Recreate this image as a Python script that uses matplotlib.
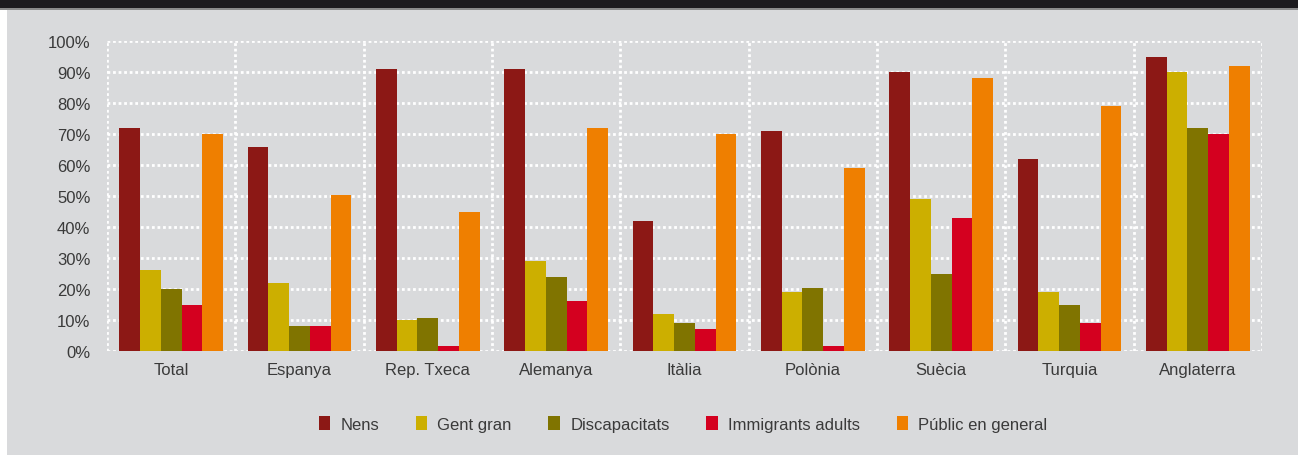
import numpy as np
import matplotlib.pyplot as plt

plt.rcParams['font.family'] = ['Liberation Sans', 'DejaVu Sans']

paisos = ['Total', 'Espanya', 'Rep. Txeca', 'Alemanya', 'Itàlia',
          'Polònia', 'Suècia', 'Turquia', 'Anglaterra']
nens = [72, 66, 91, 91, 42, 71, 90, 62, 95]
gent_gran = [26, 22, 10, 29, 12, 19, 49, 19, 90]
discapacitats = [20, 8, 10.5, 24, 9, 20.5, 25, 15, 72]
immigrants = [15, 8, 1.5, 16, 7, 1.5, 43, 9, 70]
public = [70, 50.5, 45, 72, 70, 59, 88, 79, 92]

series = [('Nens', nens, '#8c1815'),
          ('Gent gran', gent_gran, '#ccaf00'),
          ('Discapacitats', discapacitats, '#807400'),
          ('Immigrants adults', immigrants, '#d4001f'),
          ('Públic en general', public, '#ef7f00')]

fons = '#d9dadc'
text_color = '#3a3a3a'

fig = plt.figure(figsize=(12.98, 4.56), dpi=100)
fig.patch.set_facecolor('white')

# panell gris i franja fosca superior
fig.add_artist(plt.Rectangle((7 / 1298, 0), 1, 1, transform=fig.transFigure,
                             facecolor=fons, edgecolor='none', zorder=-10))
fig.add_artist(plt.Rectangle((0, 1 - 9 / 456), 1, 9 / 456, transform=fig.transFigure,
                             facecolor='#1c1a1f', edgecolor='none', zorder=-5))
fig.add_artist(plt.Rectangle((0, 1 - 10.5 / 456), 1, 1.5 / 456, transform=fig.transFigure,
                             facecolor='#8a8a8c', edgecolor='none', zorder=-6))

ax = fig.add_axes([107 / 1298, 1 - 352 / 456, (1262 - 107) / 1298, (352 - 42.3) / 456])
ax.set_facecolor(fons)

x = np.arange(len(paisos))
amplada = 0.162
for i, (nom, vals, color) in enumerate(series):
    ax.bar(x + (i - 2) * amplada, vals, width=amplada, color=color, label=nom,
           linewidth=0, zorder=3)

ax.set_xlim(-0.5, len(paisos) - 0.5)
ax.set_ylim(0, 100)
ax.set_yticks(np.arange(0, 101, 10))
ax.set_yticklabels([f'{v}%' for v in range(0, 101, 10)])
ax.set_xticks(x)
ax.set_xticklabels(paisos)

# graella puntejada
for v in range(0, 101, 10):
    ax.axhline(v, color='white', lw=2, ls=(0, (1, 1)), zorder=1)
for b in np.arange(-0.5, len(paisos)):
    ax.axvline(b, color='white', lw=2, ls=(0, (1, 1)), zorder=1)

for s in ax.spines.values():
    s.set_visible(False)
ax.tick_params(length=0, labelsize=12, colors=text_color)
ax.tick_params(axis='y', pad=12)
ax.tick_params(axis='x', pad=8)

leg = fig.legend(loc='center', bbox_to_anchor=(683 / 1298, 1 - 425 / 456), ncol=5,
                 frameon=False, fontsize=12, handlelength=0.7, handleheight=0.9,
                 handletextpad=0.6, columnspacing=2.2, labelcolor=text_color)

fig.savefig('out.png', dpi=100, facecolor=fig.get_facecolor())
